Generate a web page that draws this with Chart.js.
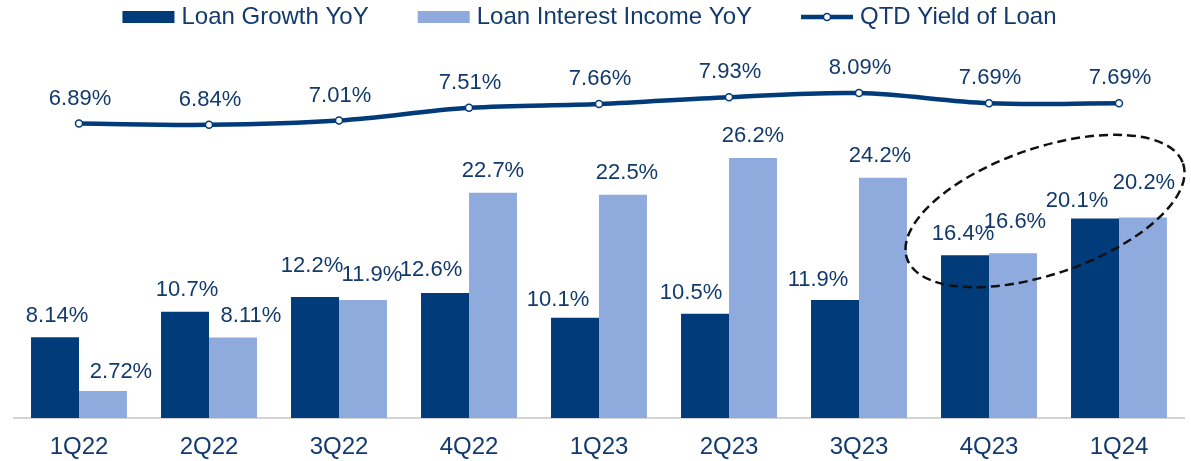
<!DOCTYPE html>
<html lang="en">
<head>
<meta charset="UTF-8">
<title>Loan Growth vs Loan Interest Income</title>
<style>
    body {
        margin: 0;
        background: #fff;
    }

    #wrap {
        width: 1191px;
        height: 461px;
        position: relative;
    }
</style>
</head>
<body>
<div id="wrap"><canvas id="loanChart"></canvas></div>

<script src="https://cdn.jsdelivr.net/npm/chart.js"></script>
<script>
    const quarters = ['1Q22', '2Q22', '3Q22', '4Q22', '1Q23', '2Q23', '3Q23', '4Q23', '1Q24'];
    const loanGrowth = [8.14, 10.7, 12.2, 12.6, 10.1, 10.5, 11.9, 16.4, 20.1];
    const interestIncome = [2.72, 8.11, 11.9, 22.7, 22.5, 26.2, 24.2, 16.6, 20.2];
    const loanYield = [6.89, 6.84, 7.01, 7.51, 7.66, 7.93, 8.09, 7.69, 7.69];

    // small nudges [dx, dy] for the value labels, like the hand-placed ones in the original
    const growthShift = [[2, 0], [2, 1], [-3, 9.5], [-14, 2], [-17, -3.5], [-14, -0.5], [-17, -1.5], [-2, 0], [-18, -3]];
    const incomeShift = [[18, -2], [18, 1], [9, 3.5], [0, 1], [4, 1], [0, 1], [-3, 1], [2, 10], [1, 14]];
    const yieldShift = quarters.map(() => [1, 0]);

    const navy = '#023b7a';
    const lightBlue = '#8faadc';
    const textColor = '#123a6c';
    const fontFamily = '"Liberation Sans", Arial, sans-serif';

    const fmt = v => v.toPrecision(3) + '%';

    // value labels above bars and points
    const valueLabels = {
        id: 'valueLabels',
        afterDatasetsDraw(chart) {
            const ctx = chart.ctx;
            ctx.save();
            ctx.font = '22px ' + fontFamily;
            ctx.fillStyle = textColor;
            ctx.textAlign = 'center';
            ctx.textBaseline = 'middle';
            chart.data.datasets.forEach((ds, i) => {
                const meta = chart.getDatasetMeta(i);
                meta.data.forEach((el, j) => {
                    const [dx, dy] = ds.labelShift[j];
                    ctx.fillText(fmt(ds.data[j]), el.x + dx, el.y - ds.labelRise - dy);
                });
            });
            ctx.restore();
        }
    };

    // legend on one row, drawn by hand so the spacing matches
    const topLegend = {
        id: 'topLegend',
        afterDraw(chart) {
            const ctx = chart.ctx;
            ctx.save();
            ctx.font = '24px ' + fontFamily;
            ctx.textBaseline = 'middle';
            const sw = 52, gapText = 7, gapItem = 49, cy = 17;
            const items = chart.data.datasets.map(ds => ({ds, w: ctx.measureText(ds.label).width}));
            const total = items.reduce((s, it) => s + sw + gapText + it.w, 0) + gapItem * (items.length - 1);
            let x = chart.width / 2 - 6 - total / 2;
            items.forEach(({ds, w}) => {
                if (ds.type === 'line') {
                    ctx.strokeStyle = ds.borderColor;
                    ctx.lineWidth = 4.5;
                    ctx.beginPath();
                    ctx.moveTo(x, cy);
                    ctx.lineTo(x + sw, cy);
                    ctx.stroke();
                    ctx.beginPath();
                    ctx.arc(x + sw / 2, cy, 3.5, 0, Math.PI * 2);
                    ctx.fillStyle = '#fff';
                    ctx.fill();
                    ctx.lineWidth = 1.5;
                    ctx.stroke();
                } else {
                    ctx.fillStyle = ds.backgroundColor;
                    ctx.fillRect(x, cy - 6, sw, 12);
                }
                ctx.fillStyle = textColor;
                ctx.fillText(ds.label, x + sw + gapText, cy);
                x += sw + gapText + w + gapItem;
            });
            ctx.restore();
        }
    };

    // dashed ellipse around the last two quarters
    const highlight = {
        id: 'highlight',
        afterDraw(chart) {
            const xs = chart.scales.x, ys = chart.scales.y;
            const cx = (xs.getPixelForValue(7) + xs.getPixelForValue(8)) / 2 - 9;
            const cy = ys.getPixelForValue(20.86);
            const ctx = chart.ctx;
            ctx.save();
            ctx.strokeStyle = '#111';
            ctx.lineWidth = 2.5;
            ctx.setLineDash([9, 5]);
            ctx.beginPath();
            ctx.ellipse(cx, cy, 146, 63, -19 * Math.PI / 180, 0, Math.PI * 2);
            ctx.stroke();
            ctx.restore();
        }
    };

    new Chart(document.getElementById('loanChart'), {
        data: {
            labels: quarters,
            datasets: [
                {
                    type: 'bar',
                    label: 'Loan Growth YoY',
                    data: loanGrowth,
                    backgroundColor: navy,
                    yAxisID: 'y',
                    order: 2,
                    labelRise: 21,
                    labelShift: growthShift
                },
                {
                    type: 'bar',
                    label: 'Loan Interest Income YoY',
                    data: interestIncome,
                    backgroundColor: lightBlue,
                    yAxisID: 'y',
                    order: 2,
                    labelRise: 21,
                    labelShift: incomeShift
                },
                {
                    type: 'line',
                    label: 'QTD Yield of Loan',
                    data: loanYield,
                    borderColor: navy,
                    borderWidth: 4.5,
                    tension: 0.35,
                    pointRadius: 3.5,
                    pointBackgroundColor: '#fff',
                    pointBorderColor: navy,
                    pointBorderWidth: 1.5,
                    yAxisID: 'y2',
                    order: 1,
                    labelRise: 25,
                    labelShift: yieldShift
                }
            ]
        },
        options: {
            responsive: true,
            maintainAspectRatio: false,
            animation: false,
            events: [],
            layout: {
                padding: {top: 40, left: 14, right: 7, bottom: 0}
            },
            datasets: {
                bar: {
                    categoryPercentage: 0.738,
                    barPercentage: 1
                }
            },
            plugins: {
                legend: {display: false},
                tooltip: {enabled: false}
            },
            scales: {
                x: {
                    grid: {display: false, drawTicks: false},
                    border: {display: true, color: '#d4d4d4', width: 2},
                    ticks: {
                        color: textColor,
                        font: {family: fontFamily, size: 24},
                        padding: 15
                    },
                    afterFit: scale => { scale.height = 43; }
                },
                y: {
                    display: false,
                    min: 0,
                    max: 38.09
                },
                y2: {
                    display: false,
                    min: -4.70,
                    max: 10.18
                }
            }
        },
        plugins: [valueLabels, topLegend, highlight]
    });
</script>
</body>
</html>
